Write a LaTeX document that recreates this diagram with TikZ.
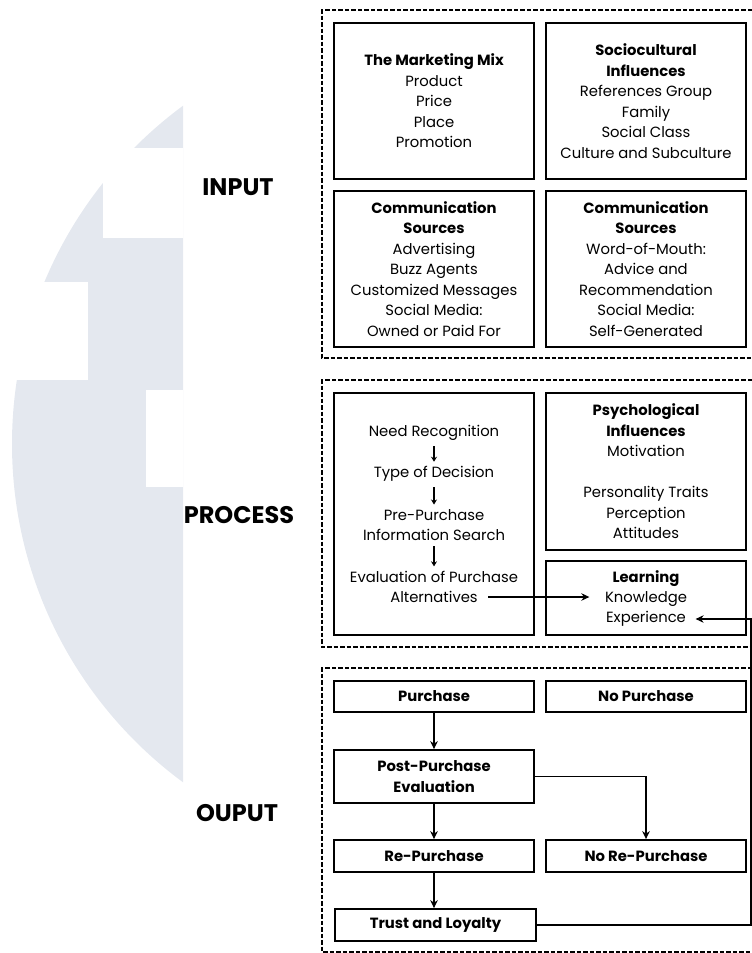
\documentclass[tikz,border=0pt]{standalone}
\usepackage{fontspec}
\setmainfont{Poppins}
\usetikzlibrary{arrows.meta}
\definecolor{wmgrey}{RGB}{228,232,239}
\tikzset{
  box/.style={draw, line width=1.8pt, minimum width=200pt, align=center, inner sep=0pt, font=\fontsize{14.8}{20.5}\selectfont},
  boldbox/.style={box, font=\fontsize{14.8}{20.5}\selectfont\bfseries},
  txtline/.style={inner sep=1.5pt, font=\fontsize{14.8}{20.5}\selectfont},
  lbl/.style={font=\fontsize{24}{28}\selectfont\bfseries},
  frame/.style={dash pattern=on 4.5pt off 2pt, line width=1.2pt},
  link/.style={line width=1.6pt, -{Stealth[length=8pt,width=7.5pt]}},
  tick/.style={line width=1.5pt, shorten <=4pt, shorten >=3pt, -{Stealth[length=5pt,width=6pt]}}
}
\begin{document}
\begin{tikzpicture}[x=1pt,y=-1pt]
    \useasboundingbox (0,0) rectangle (752,953);

    \begin{scope}
        \clip (0,0) rectangle (183,953);
        \fill[wmgrey] (432,444) circle (420pt);
    \end{scope}
    \fill[white] (103,148) rectangle (183,238);
    \fill[white] (0,282) rectangle (88,380);
    \fill[white] (146,390) rectangle (183,487);

    \node[lbl] (input) at (238,187) {INPUT};
    \node[lbl] (process) at (239,515) {PROCESS};
    \node[lbl] (output) at (237,813) {OUPUT};

    \draw[frame] (752,10) -- (322,10) -- (322,358) -- (752,358);
    \draw[frame] (752,380) -- (322,380) -- (322,647) -- (752,647);
    \draw[frame] (752,668) -- (322,668) -- (322,952) -- (752,952);

    \node[box, minimum height=156pt] (mix) at (434,101) {\textbf{The Marketing Mix}\\Product\\Price\\Place\\Promotion};
    \node[box, minimum height=156pt] (socio) at (646,101) {\textbf{Sociocultural}\\\textbf{Influences}\\References Group\\Family\\Social Class\\Culture and Subculture};
    \node[box, minimum height=156pt] (paid) at (434,269) {\textbf{Communication}\\\textbf{Sources}\\Advertising\\Buzz Agents\\Customized Messages\\Social Media:\\Owned or Paid For};
    \node[box, minimum height=156pt] (word) at (646,269) {\textbf{Communication}\\\textbf{Sources}\\Word-of-Mouth:\\Advice and\\Recommendation\\Social Media:\\Self-Generated};

    \node[box, minimum height=242pt] (decision) at (434,514) {};
    \node[txtline] (need) at (434,433) {Need Recognition};
    \node[txtline] (type) at (434,474) {Type of Decision};
    \node[txtline, align=center] (search) at (434,525) {Pre-Purchase\\Information Search};
    \node[txtline, align=center] (evaluation) at (434,587) {Evaluation of Purchase\\Alternatives};
    \draw[tick] (need) -- (type);
    \draw[tick] (type) -- (search);
    \draw[tick] (search) -- (evaluation);

    \node[box, minimum height=157pt] (psych) at (646,471.5) {\textbf{Psychological}\\\textbf{Influences}\\Motivation\\[20.5pt]Personality Traits\\Perception\\Attitudes};
    \node[box, minimum height=74pt] (learning) at (646,598) {};
    \node[txtline, font=\fontsize{14.8}{20.5}\selectfont\bfseries] (learnhead) at (646,579) {Learning};
    \node[txtline] (knowledge) at (646,599) {Knowledge};
    \node[txtline] (experience) at (646,619) {Experience};
    \coordinate (altend) at (488,597);
    \draw[link, shorten >=14pt] (altend) -- (altend -| knowledge.west);

    \node[boldbox, minimum height=31pt] (purchase) at (434,696.5) {Purchase};
    \node[boldbox, minimum height=31pt] (nopurchase) at (646,696.5) {No Purchase};
    \node[boldbox, minimum height=53pt] (post) at (434,776.5) {Post-Purchase\\Evaluation};
    \node[boldbox, minimum height=32pt] (repurchase) at (434,856) {Re-Purchase};
    \node[boldbox, minimum height=32pt] (norepurchase) at (646,856) {No Re-Purchase};
    \node[boldbox, minimum height=32pt, minimum width=201pt] (trust) at (435.5,925) {Trust and Loyalty};
    \coordinate (rim) at (751,925);

    \draw[link] (purchase) -- (post);
    \draw[link] (post) -- (repurchase);
    \draw[link] (repurchase.south) -- (repurchase.south |- trust.north);
    \draw[link] (post.east) -| (norepurchase.north);
    \draw[link, shorten >=8pt] (trust.east) -- (rim) |- (experience.east);
\end{tikzpicture}
\end{document}
